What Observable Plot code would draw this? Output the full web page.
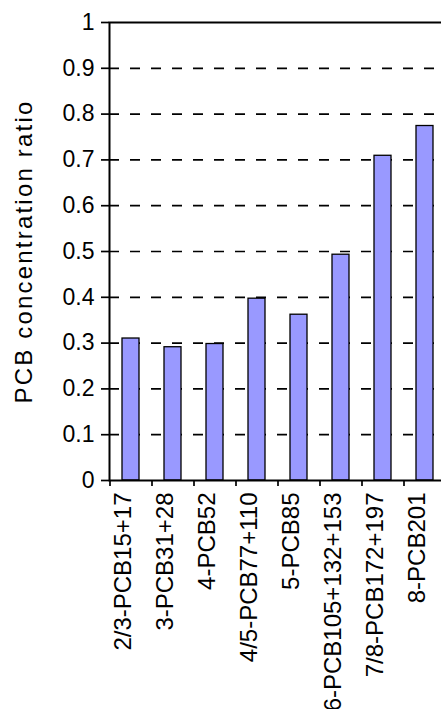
<!DOCTYPE html>
<html>
<head>
<meta charset="utf-8">
<script src="https://cdn.jsdelivr.net/npm/d3@7"></script>
<script src="https://cdn.jsdelivr.net/npm/@observablehq/plot@0.6"></script>
<style>
  html, body { margin: 0; padding: 0; overflow: hidden; background: white; }
</style>
</head>
<body>
<div id="chart"></div>
<script>
const categories = ["2/3-PCB15+17", "3-PCB31+28", "4-PCB52", "4/5-PCB77+110", "5-PCB85", "6-PCB105+132+153", "7/8-PCB172+197", "8-PCB201"];
const values = [0.31, 0.291, 0.298, 0.397, 0.362, 0.493, 0.709, 0.774];
const yTicks = [0, 0.1, 0.2, 0.3, 0.4, 0.5, 0.6, 0.7, 0.8, 0.9, 1];
const gridTicks = [0.1, 0.2, 0.3, 0.4, 0.5, 0.6, 0.7, 0.8, 0.9];
const yLabel = "PCB concentration ratio";

const data = categories.map((c, i) => ({cat: c, value: values[i]}));

const W = 445, marginLeft = 109, marginRight = 0;
const step = (W - marginLeft - marginRight) / categories.length;

const chart = Plot.plot({
  width: W,
  height: 709,
  marginLeft,
  marginRight,
  marginTop: 22,
  marginBottom: 229,
  style: {maxWidth: "none", fontFamily: "'Liberation Sans', Arial, sans-serif", color: "black", background: "white"},
  x: {domain: categories, paddingInner: 0.6, paddingOuter: 0.3, axis: null},
  y: {domain: [0, 1], axis: null},
  marks: [
    Plot.gridY(gridTicks, {stroke: "black", strokeOpacity: 1, strokeWidth: 1.7, strokeDasharray: "10,11"}),
    Plot.barY(data, {x: "cat", y: "value", fill: "#9999ff", stroke: "black", strokeWidth: 1.3}),
    Plot.frame({stroke: "black", strokeWidth: 2}),
    Plot.axisY(yTicks, {tickSize: 8, tickPadding: 7, tickFormat: d3.format("~g"), fontSize: 23, strokeWidth: 1.7, label: null}),
    Plot.axisX({tickSize: 6, tickFormat: () => "", dx: -step / 2, strokeWidth: 1.7, label: null}),
    Plot.text(categories, {x: d => d, frameAnchor: "bottom", rotate: -90, textAnchor: "end", dy: 12, fontSize: 24, fill: "black"}),
    Plot.text([yLabel], {frameAnchor: "left", rotate: -90, textAnchor: "middle", dx: -85.5, fontSize: 24, fill: "black"})
  ]
});

d3.select(chart).selectAll("text").filter(function() { return this.textContent === yLabel; })
  .style("letter-spacing", "2.2px");

document.getElementById("chart").appendChild(chart);
</script>
</body>
</html>
